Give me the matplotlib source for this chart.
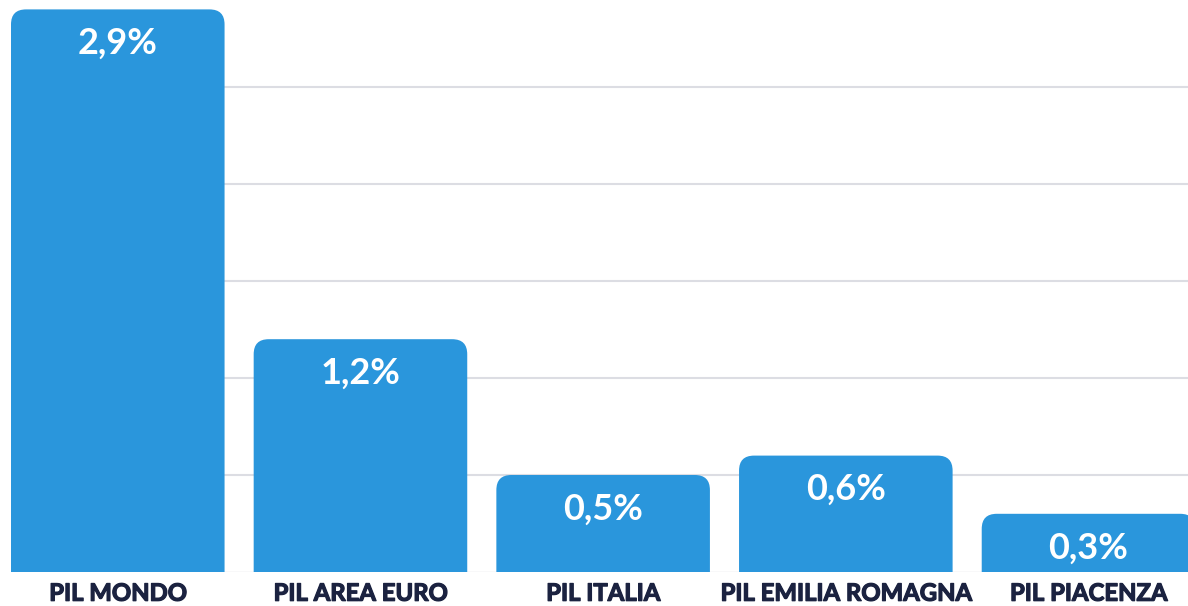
import matplotlib
matplotlib.use("Agg")
import matplotlib.pyplot as plt
import matplotlib.patheffects as pe
from matplotlib.patches import FancyBboxPatch

# Crescita PIL (%)
categories = ["PIL MONDO", "PIL AREA EURO", "PIL ITALIA", "PIL EMILIA ROMAGNA", "PIL PIACENZA"]
values = [2.9, 1.2, 0.5, 0.6, 0.3]
labels = ["2,9%", "1,2%", "0,5%", "0,6%", "0,3%"]
grid_levels = [0.5, 1.0, 1.5, 2.0, 2.5]

BAR_COLOR = "#2a96dc"
TEXT_DARK = "#1b2240"
GRID_COLOR = "#dcdde3"
BAR_W = 0.88
RADIUS_PX = 15

plt.rcParams["font.family"] = ["Lato", "DejaVu Sans"]

W, H = 1188, 606
fig = plt.figure(figsize=(W / 100, H / 100), dpi=100)
ax = fig.add_axes([11 / W, 34 / H, (W - 11) / W, 572.3 / H])
ax.set_xlim(-BAR_W / 2, 4.41)
ax.set_ylim(0, 2.95)
for s in ax.spines.values():
    s.set_visible(False)
ax.set_yticks([])

for g in grid_levels:
    ax.axhline(g, color=GRID_COLOR, lw=1.5, zorder=0)
ax.axhline(0, color=GRID_COLOR, lw=1.0, zorder=0)

# data units per pixel, to keep the rounded corners circular
bbox = ax.get_position()
x_per_px = (ax.get_xlim()[1] - ax.get_xlim()[0]) / (bbox.width * W)
y_per_px = (ax.get_ylim()[1] - ax.get_ylim()[0]) / (bbox.height * H)
aspect = y_per_px / x_per_px
r = RADIUS_PX * x_per_px
extra = RADIUS_PX * y_per_px  # push the lower corners below the axis so they get clipped

for i, (v, lab) in enumerate(zip(values, labels)):
    patch = FancyBboxPatch(
        (i - BAR_W / 2, -extra), BAR_W, v + extra,
        boxstyle=f"round,pad=0,rounding_size={r}",
        mutation_aspect=aspect,
        facecolor=BAR_COLOR, edgecolor="none", zorder=2, clip_on=True,
    )
    ax.add_patch(patch)
    ax.annotate(lab, (i, v), xytext=(0, -34), textcoords="offset pixels",
                ha="center", va="center", color="white", fontsize=26,
                fontweight="bold", zorder=3)

ax.set_xticks(range(len(categories)))
ax.set_xticklabels(categories, fontsize=17.2, fontweight="bold", color=TEXT_DARK)
for t in ax.get_xticklabels():
    t.set_path_effects([pe.withStroke(linewidth=0.9, foreground=TEXT_DARK)])
ax.tick_params(axis="x", length=0, pad=7)

fig.savefig("out.png", dpi=100, facecolor="white")
